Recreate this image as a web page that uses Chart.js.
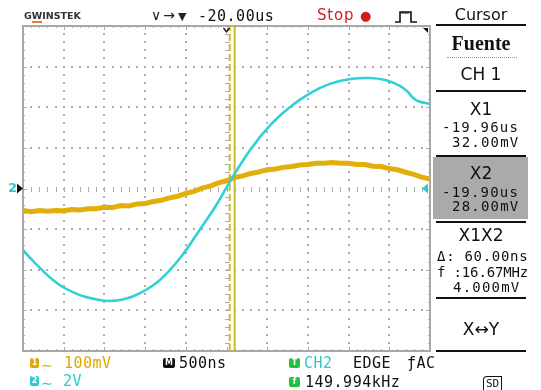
<!DOCTYPE html>
<html><head><meta charset="utf-8">
<script src="https://cdn.jsdelivr.net/npm/chart.js@4/dist/chart.umd.min.js"></script>
<style>
html,body{margin:0;padding:0;background:#fff;}
body{width:541px;height:390px;overflow:hidden;position:relative;font-family:"DejaVu Sans",sans-serif;color:#111;}
#c{position:absolute;left:0;top:0;}
.t{position:absolute;white-space:nowrap;line-height:1;}
.m{font-family:"DejaVu Sans Mono",monospace;font-size:14px;letter-spacing:1.2px;}
.c{left:433px;width:96px;text-align:center;}
.s{font-size:17px;}
.hl{position:absolute;left:436px;width:90px;height:2px;background:#111;}
.ib{display:inline-block;width:9px;height:10px;border-radius:2px;color:#fff;font:bold 8px "DejaVu Sans";text-align:center;line-height:10px;vertical-align:top;margin-top:1px;}
</style></head><body>
<canvas id="c" width="541" height="390"></canvas>

<!-- top bar -->
<div class="t" style="left:24px;top:10px;font:bold 9.5px 'DejaVu Sans';color:#333;">G<span style="border-bottom:2px solid #f07a30;">W</span>INSTEK</div>
<div class="t" style="left:151px;top:8px;font-size:14px;color:#222;">∨<span style="margin-left:2px">→</span><span style="margin-left:3px;font-size:11px">▼</span></div>
<div class="t m" style="left:198px;top:9px;font-size:15px;letter-spacing:0.5px;">-20.00us</div>
<div class="t" style="left:317px;top:8px;font-size:15px;letter-spacing:0.8px;color:#d41a1a;">Stop <span style="font-size:13px">●</span></div>
<svg style="position:absolute;left:393px;top:9px" width="26" height="16">
<path d="M2 13 H7 V3 H18 V13 H24" fill="none" stroke="#111" stroke-width="1.6"/>
<path d="M9 3 V5 M11 3 V5 M13 3 V5 M15 3 V5" stroke="#111" stroke-width="1"/>
</svg>

<!-- right panel -->
<div class="t c" style="top:7px;font-size:16px;">Cursor</div>
<div class="hl" style="top:24px;"></div>
<div class="t c" style="top:32px;font:bold 20px 'Liberation Serif',serif;">Fuente</div>
<div style="position:absolute;left:447px;top:57px;width:70px;border-top:1px dotted #999;"></div>
<div class="t c s" style="top:66px;">CH 1</div>
<div class="hl" style="top:90px;"></div>
<div class="t c s" style="top:101px;">X1</div>
<div class="t m" style="left:442px;top:120px;">-19.96us</div>
<div class="t m" style="left:452px;top:135px;">32.00mV</div>
<div class="hl" style="top:155px;"></div>
<div style="position:absolute;left:433px;top:157px;width:95px;height:62px;background:#aaaaaa;"></div>
<div class="t c s" style="top:165px;">X2</div>
<div class="t m" style="left:442px;top:185px;">-19.90us</div>
<div class="t m" style="left:452px;top:199px;">28.00mV</div>
<div class="hl" style="top:221px;"></div>
<div class="t c s" style="top:227px;">X1X2</div>
<div class="t m" style="left:437px;top:249px;letter-spacing:0.7px;">Δ: 60.00ns</div>
<div class="t m" style="left:437px;top:265px;letter-spacing:-0.15px;">f :16.67MHz</div>
<div class="t m" style="left:453px;top:280px;">4.000mV</div>
<div class="hl" style="top:297px;"></div>
<div class="t c s" style="top:321px;">X↔Y</div>
<div class="hl" style="top:350px;"></div>

<!-- bottom bar -->
<div class="t" style="left:30px;top:357px;color:#e0a800;"><span class="ib" style="background:#e0a800">1</span><span style="font-size:14px;margin-left:2px">∼</span></div>
<div class="t m" style="left:64px;top:356px;color:#e0a800;font-size:15px;letter-spacing:0.5px;">100mV</div>
<div class="t" style="left:30px;top:375px;color:#2ec8d0;"><span class="ib" style="background:#2ec8d0">2</span><span style="font-size:14px;margin-left:2px">∼</span></div>
<div class="t m" style="left:63px;top:374px;color:#2ec8d0;font-size:15px;letter-spacing:0.5px;">2V</div>
<div class="t" style="left:163px;top:357px;"><span class="ib" style="background:#111;width:12px">M</span></div>
<div class="t m" style="left:179px;top:356px;font-size:15px;letter-spacing:0.5px;">500ns</div>
<div class="t" style="left:289px;top:357px;"><span class="ib" style="background:#22c040;width:11px">T</span></div>
<div class="t m" style="left:304px;top:356px;font-size:15px;letter-spacing:0.5px;color:#2ec8d0;">CH2</div>
<div class="t m" style="left:353px;top:356px;font-size:15px;letter-spacing:0.5px;">EDGE</div>
<div class="t m" style="left:407px;top:356px;font-size:15px;letter-spacing:0.5px;">ƒAC</div>
<div class="t" style="left:289px;top:376px;"><span class="ib" style="background:#22c040;width:11px">f</span></div>
<div class="t m" style="left:305px;top:375px;font-size:15px;letter-spacing:0.5px;">149.994kHz</div>
<div class="t" style="left:483px;top:376px;font:11px 'DejaVu Sans Mono';border:1.5px solid #111;border-bottom:none;border-radius:4px 0 0 0;padding:0 2px;height:14px;line-height:13px;">SD</div>

<script>
// ----- data -----
const timeMin = -22.5, timeMax = -17.5;   // us (10 div x 500 ns, centre -20.00 us)
const ch1Range = [-400, 400];              // mV (100 mV/div)
const ch2Range = [-8, 8];                  // V  (2 V/div)

const ch2Time  = [-22.5,-22.29,-22.05,-21.80,-21.62,-21.43,-21.25,-21.06,-20.82,-20.57,-20.33,-20.14,-19.93,-19.71,-19.46,-19.22,-18.97,-18.73,-18.48,-18.24,-18.05,-17.87,-17.77,-17.72,-17.65,-17.5];
const ch2Volts = [-3.03,-3.92,-4.75,-5.25,-5.44,-5.54,-5.44,-5.15,-4.51,-3.42,-2.04,-0.91,0.52,1.90,3.13,4.01,4.70,5.15,5.39,5.44,5.34,5.05,4.75,4.51,4.31,4.16];

const ch1Time = [-22.5,-22.4,-22.3,-22.2,-22.1,-22.0,-21.9,-21.8,-21.7,-21.6,-21.5,-21.4,-21.3,-21.2,-21.1,-21.0,-20.9,-20.8,-20.7,-20.6,-20.5,-20.4,-20.3,-20.2,-20.1,-20.0,-19.9,-19.8,-19.7,-19.6,-19.5,-19.4,-19.3,-19.2,-19.1,-19.0,-18.9,-18.8,-18.7,-18.6,-18.5,-18.4,-18.3,-18.2,-18.1,-18.0,-17.9,-17.8,-17.7,-17.6,-17.5];
const ch1mV   = [-54,-57,-54,-56,-54,-55,-52,-53,-50,-50,-46,-47,-42,-43,-38,-37,-32,-29,-23,-19,-12,-7,1,6,14,19,27,31,37,41,46,48,52,54,58,59,62,62,64,62,62,59,59,55,54,49,46,40,35,28,23];

const cursorTimes = [-19.96, -19.90];      // X1 (dashed), X2 (selected, solid)

// ----- grid plugin -----
const scopeGrid = {
  id:'scopeGrid',
  beforeDatasetsDraw(chart){
    const ctx = chart.ctx, xs = chart.scales.x, ys = chart.scales.y2;
    const a = chart.chartArea;
    ctx.save();
    ctx.fillStyle = '#acacac';
    const xDiv = 0.5, yDiv = 2, xMin = 0.1, yMin = 0.4;
    for(let i=1;i<10;i++){
      const px = Math.round(xs.getPixelForValue(timeMin + i*xDiv));
      for(let k=1;k<40;k++){
        const py = ys.getPixelForValue(ch2Range[0] + k*yMin);
        if(i===5){ ctx.fillRect(px-2, Math.round(py), 5, 1); }
        else ctx.fillRect(px-1, Math.round(py)-1, 2, 2);
      }
    }
    for(let j=1;j<8;j++){
      const py = Math.round(ys.getPixelForValue(ch2Range[0] + j*yDiv));
      for(let k=1;k<50;k++){
        const px = xs.getPixelForValue(timeMin + k*xMin);
        if(j===4){ ctx.fillRect(Math.round(px), py-2, 1, 5); }
        else ctx.fillRect(Math.round(px)-1, py-1, 2, 2);
      }
    }
    for(let k=1;k<50;k++){
      const px = Math.round(xs.getPixelForValue(timeMin + k*xMin));
      const len = (k%5===0)?4:2;
      ctx.fillRect(px, a.top, 1, len);
      ctx.fillRect(px, a.bottom-len, 1, len);
    }
    for(let k=1;k<40;k++){
      const py = Math.round(ys.getPixelForValue(ch2Range[0] + k*yMin));
      const len = (k%5===0)?4:2;
      ctx.fillRect(a.left, py, len, 1);
      ctx.fillRect(a.right-len, py, len, 1);
    }
    ctx.strokeStyle = '#a8a8a8'; ctx.lineWidth = 2;
    ctx.strokeRect(a.left, a.top, a.right-a.left, a.bottom-a.top);
    ctx.restore();
  },
  afterDatasetsDraw(chart){
    const ctx = chart.ctx, a = chart.chartArea, ys = chart.scales.y2, xs = chart.scales.x;
    const cy = ys.getPixelForValue(0);
    ctx.save();
    ctx.fillStyle = '#111';
    ctx.beginPath(); ctx.moveTo(a.left-6, cy-5); ctx.lineTo(a.left, cy); ctx.lineTo(a.left-6, cy+5); ctx.fill();
    ctx.font = 'bold 13px "DejaVu Sans"'; ctx.fillStyle = '#2ec8d0'; ctx.textBaseline = 'middle';
    ctx.fillText('2', a.left-15, cy);
    ctx.fillStyle = '#2ec8d0';
    ctx.beginPath(); ctx.moveTo(a.right-2, cy-5); ctx.lineTo(a.right-8, cy); ctx.lineTo(a.right-2, cy+5); ctx.fill();
    ctx.fillStyle = '#111';
    ctx.beginPath(); ctx.moveTo(a.right-7, a.top+2); ctx.lineTo(a.right-2, a.top+2); ctx.lineTo(a.right-2, a.top+7); ctx.fill();
    const tx = xs.getPixelForValue(-20.0);
    ctx.strokeStyle = '#111'; ctx.lineWidth = 1.3;
    ctx.beginPath(); ctx.moveTo(tx-3, a.top+2); ctx.lineTo(tx, a.top+6); ctx.lineTo(tx+3, a.top+2); ctx.stroke();
    ctx.restore();
  }
};

const pts = (xa, ya) => xa.map((x,i)=>({x, y: ya[i]}));

new Chart(document.getElementById('c'), {
  type:'line',
  data:{datasets:[
    {label:'CH2', data:pts(ch2Time, ch2Volts), yAxisID:'y2', borderColor:'#2fd0d6', borderWidth:2.6, pointRadius:0, tension:0.4, order:1},
    {label:'CH1', data:pts(ch1Time, ch1mV), yAxisID:'y1', borderColor:'#e2ae08', borderWidth:5, pointRadius:0, tension:0, order:2},
    {label:'X1', data:[{x:cursorTimes[0],y:ch2Range[0]},{x:cursorTimes[0],y:ch2Range[1]}], yAxisID:'y2', borderColor:'#c8bc30', borderWidth:2, borderDash:[7,3], pointRadius:0, order:3},
    {label:'X2', data:[{x:cursorTimes[1],y:ch2Range[0]},{x:cursorTimes[1],y:ch2Range[1]}], yAxisID:'y2', borderColor:'#c8bc30', borderWidth:2, pointRadius:0, order:3}
  ]},
  options:{
    responsive:false, animation:false, devicePixelRatio:1, events:[],
    layout:{padding:{left:23, top:26, right:111, bottom:39}},
    plugins:{legend:{display:false}, tooltip:{enabled:false}},
    scales:{
      x:{type:'linear', min:timeMin, max:timeMax, display:false},
      y1:{type:'linear', min:ch1Range[0], max:ch1Range[1], display:false},
      y2:{type:'linear', min:ch2Range[0], max:ch2Range[1], display:false}
    }
  },
  plugins:[scopeGrid]
});
</script>
</body></html>
